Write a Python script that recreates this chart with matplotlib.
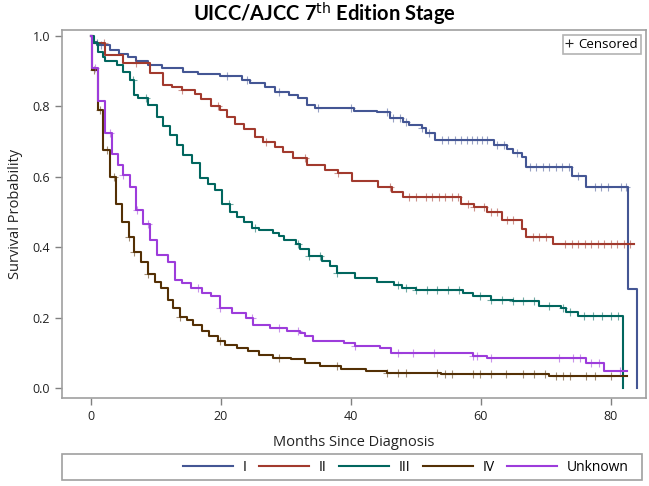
import numpy as np
import matplotlib
matplotlib.use("Agg")
import matplotlib.pyplot as plt
from matplotlib.lines import Line2D
from matplotlib.patches import Rectangle

# Kaplan-Meier step curves (months, survival)
stage1_t = [0, 0.3, 1, 2.9, 4.3, 5.7, 7, 8.8, 10.9, 14.2, 16.5, 19.8, 23.2, 24.5, 26.8, 28.3, 30.4, 31.9, 33.2, 34.5,
            40.5, 44, 46, 48, 49, 50.9, 51.5, 53, 62, 64, 65, 66.3, 67, 74, 76.2, 82.6, 84]
stage1_s = [1.0, 0.984, 0.975, 0.96, 0.95, 0.94, 0.928, 0.918, 0.908, 0.899, 0.893, 0.885, 0.875, 0.866, 0.856, 0.842,
            0.833, 0.823, 0.804, 0.795, 0.786, 0.783, 0.766, 0.757, 0.747, 0.738, 0.725, 0.705, 0.69, 0.68, 0.667, 0.657,
            0.629, 0.602, 0.572, 0.28, 0.0]
stage1_cens = [1.5, 21, 24, 29, 35, 40, 45.5, 46.5, 47.5, 48.5, 51, 52, 54, 55, 56, 57, 57.8, 58.6, 59.4, 60.2, 61,
               62.5, 63.5, 65.5, 67.5, 68.5, 69.5, 70.5, 71.5, 72.5, 73.5, 75, 77.5, 78.5, 79.5, 81.5, 82.3]

stage2_t = [0, 0.3, 2.15, 5, 9.1, 11.1, 12.5, 14, 16, 17, 18.5, 19.8, 21, 22.2, 23.5, 25.2, 26.5, 28.3, 29.5, 31.1,
            33.2, 36, 38, 40.1, 44.2, 46.3, 48, 57, 59, 60.9, 63.2, 66.3, 67, 71.1, 83.5]
stage2_s = [1.0, 0.98, 0.946, 0.922, 0.894, 0.861, 0.855, 0.847, 0.835, 0.82, 0.80, 0.79, 0.77, 0.75, 0.735, 0.714,
            0.70, 0.686, 0.67, 0.652, 0.633, 0.618, 0.61, 0.587, 0.572, 0.558, 0.544, 0.524, 0.515, 0.50, 0.477, 0.453,
            0.43, 0.41, 0.41]
stage2_cens = [2, 7, 14, 19.5, 27, 33, 38, 46, 49, 50, 51.5, 52.5, 53.5, 54.5, 55.5, 56.5, 58, 59, 60.5, 61.5, 62.5,
               64, 65, 68, 69, 70, 73, 74, 75, 76, 77, 78, 79, 80, 81, 82, 83]

stage3_t = [0, 0.5, 1.1, 1.8, 2.2, 4, 5, 6, 6.6, 7.3, 8.8, 10.1, 11.1, 12.2, 13.2, 14.2, 15.5, 16.8, 18, 19.1, 20.1,
            21.4, 22.5, 23.6, 24.7, 25.8, 28, 28.9, 29.7, 31.6, 32.2, 33.5, 35.5, 36.8, 37.9, 40.7, 44, 46.7, 47.8, 50,
            57.2, 58.8, 61.6, 64.9, 69, 72.3, 73.1, 75, 81.9]
stage3_s = [1.0, 0.98, 0.955, 0.94, 0.928, 0.918, 0.899, 0.875, 0.832, 0.823, 0.804, 0.771, 0.743, 0.719, 0.69, 0.662,
            0.638, 0.596, 0.58, 0.563, 0.524, 0.50, 0.485, 0.471, 0.455, 0.448, 0.44, 0.432, 0.42, 0.41, 0.395,
            0.375, 0.36, 0.346, 0.328, 0.313, 0.302, 0.293, 0.283, 0.278, 0.269, 0.26, 0.25, 0.246, 0.233, 0.227,
            0.217, 0.205, 0.0]
stage3_cens = [1, 6.5, 8.5, 21.2, 25.3, 31.9, 33.5, 35.2, 37.9, 47.3, 48.4, 50, 51.7, 53.3, 55, 56.6, 59.9, 61.6, 63.2,
               64.9, 66.5, 68.2, 70.4, 72.6, 73.7, 75.9, 77.2, 78.6, 80, 81.1]

stage4_t = [0, 0.1, 1.1, 1.8, 2.9, 3.9, 4.7, 5.8, 6.6, 7.7, 8.8, 9.9, 10.7, 11.8, 12.6, 13.7, 14.8, 15.7, 17.1, 18.1,
            19.5, 20.6, 22.5, 24.2, 25.8, 28, 30.8, 33, 35.2, 38.5, 42.3, 45.6, 53.9, 70.4, 82.5]
stage4_s = [1.0, 0.903, 0.79, 0.676, 0.60, 0.523, 0.471, 0.429, 0.387, 0.358, 0.325, 0.302, 0.283, 0.25, 0.227, 0.203,
            0.194, 0.18, 0.161, 0.147, 0.133, 0.123, 0.114, 0.104, 0.095, 0.086, 0.081, 0.071, 0.062, 0.055, 0.048,
            0.043, 0.039, 0.034, 0.034]
stage4_cens = [0.4, 1.4, 2.5, 3.5, 5.8, 6.6, 8.8, 13.7, 19.8, 28.9, 37.9, 45.6, 47.3, 48.4, 53.3, 54.4, 55.5, 58.8,
               59.9, 61.6, 63.8, 66.5, 68.2, 69.8, 71.5, 72.6, 73.7, 76.1, 77.5, 80]

unknown_t = [0, 0.1, 1.1, 2.2, 3.2, 4.2, 4.9, 6.0, 7.0, 8.0, 9.1, 10.2, 11.8, 12.9, 14, 15.4, 17.1, 18.4, 19.8, 21.7,
             23.9, 25, 27.5, 30.2, 32.2, 33, 34.1, 39, 40.7, 44.5, 46.2, 58.8, 61, 76.1, 78.9, 82.5]
unknown_s = [1.0, 0.91, 0.814, 0.723, 0.666, 0.633, 0.605, 0.572, 0.506, 0.467, 0.42, 0.377, 0.358, 0.307, 0.297,
             0.283, 0.269, 0.26, 0.227, 0.213, 0.198, 0.18, 0.17, 0.161, 0.156, 0.147, 0.133, 0.128, 0.119, 0.114,
             0.10, 0.09, 0.086, 0.071, 0.048, 0.048]
unknown_cens = [0.6, 3, 5, 7.1, 8.8, 16.5, 19.8, 24.7, 28.9, 31.9, 40.7, 47.3, 49.5, 52.8, 58.8, 59.4, 61.6, 72,
                74.2, 75.3, 77, 78.1, 81.4]

labels = ["I", "II", "III", "IV", "Unknown"]
colors = ["#445694", "#A23A2E", "#01665E", "#543005", "#9D3CDB"]
curves = [(stage1_t, stage1_s, stage1_cens), (stage2_t, stage2_s, stage2_cens), (stage3_t, stage3_s, stage3_cens),
          (stage4_t, stage4_s, stage4_cens), (unknown_t, unknown_s, unknown_cens)]

plt.rcParams['font.family'] = ['Open Sans', 'DejaVu Sans']

fig = plt.figure(figsize=(6.49, 4.86), dpi=100)
ax = fig.add_axes([62 / 649, 1 - 398 / 486, 584 / 649, 368 / 486])

for (t, s, cens), col in zip(curves, colors):
    t = np.array(t)
    s = np.array(s)
    ax.step(t, s, where="post", color=col, lw=1.5)
    c = np.array(cens)
    cy = s[np.searchsorted(t, c, side="right") - 1]
    ax.plot(c, cy, ls="none", marker="+", ms=6, mew=0.8, color=col, alpha=0.55)

ax.set_xlim(-4.46, 85.4)
ax.set_ylim(-0.0284, 1.017)
ax.set_xticks([0, 20, 40, 60, 80])
ax.set_yticks([0.0, 0.2, 0.4, 0.6, 0.8, 1.0])
ax.set_yticklabels(["0.0", "0.2", "0.4", "0.6", "0.8", "1.0"])
ax.tick_params(colors="#808080", labelcolor="#222222", labelsize=9, length=5, width=1)
for sp in ax.spines.values():
    sp.set_color("#a0a0a0")
    sp.set_linewidth(1.2)

ax.set_xlabel("Months Since Diagnosis", fontsize=10.5, color="#222222", labelpad=9)
ax.set_ylabel("Survival Probability", fontsize=10.5, color="#222222", labelpad=7)
fig.text(0.5, 1 - 14 / 486, "UICC/AJCC 7$^{\\mathrm{th}}$ Edition Stage", ha="center", va="center",
         fontsize=14.5, fontweight="bold", family=["Lato", "DejaVu Sans"])

cens_handle = Line2D([], [], ls="none", marker="+", ms=6, mew=0.8, color="#222222")
leg1 = ax.legend([cens_handle], ["Censored"], loc="upper right", fontsize=9.5, frameon=True, fancybox=False,
                 edgecolor="#a0a0a0", handlelength=0.6, handletextpad=0.4, borderpad=0.2,
                 borderaxespad=0.4)
leg1.get_frame().set_linewidth(1.2)

handles = [Line2D([], [], color=col, lw=1.5) for col in colors]
fig.legend(handles, labels, loc="center right", bbox_to_anchor=(641 / 649, 1 - 467 / 486), ncol=5,
           frameon=False, fontsize=10, handlelength=3.6, handletextpad=0.7, columnspacing=0.9)
fig.patches.append(Rectangle((62 / 649, 1 - 480 / 486), 580 / 649, 26 / 486, transform=fig.transFigure,
                             fill=False, edgecolor="#a0a0a0", lw=1.2))

fig.savefig("out.png", dpi=100)
